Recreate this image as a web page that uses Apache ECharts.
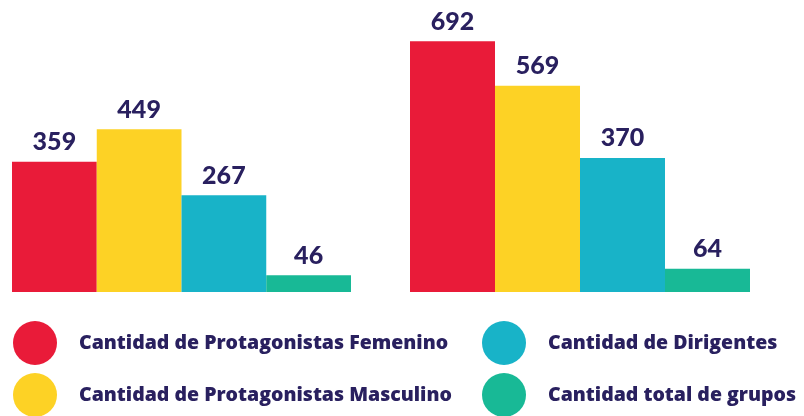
<!DOCTYPE html>
<html>
<head>
<meta charset="utf-8">
<script src="https://cdn.jsdelivr.net/npm/echarts@6/dist/echarts.min.js"></script>
<style>
  html, body { margin: 0; padding: 0; background: #fff; }
  #chart { width: 804px; height: 416px; }
</style>
</head>
<body>
<div id="chart"></div>
<script>
  // series names (legend)
  var seriesNames = [
    'Cantidad de Protagonistas Femenino',
    'Cantidad de Protagonistas Masculino',
    'Cantidad de Dirigentes',
    'Cantidad total de grupos'
  ];
  var colors = ['#e91b39', '#fdd225', '#18b3c8', '#18b996'];
  // one value per series, per group
  var groupA = [359, 449, 267, 46];
  var groupB = [692, 569, 370, 64];

  var navy = '#29205f';

  var chart = echarts.init(document.getElementById('chart'));

  var series = [];
  [groupA, groupB].forEach(function (vals, g) {
    vals.forEach(function (v, i) {
      series.push({
        name: seriesNames[i],
        type: 'bar',
        xAxisIndex: g,
        yAxisIndex: g,
        barGap: '0%',
        barCategoryGap: '0%',
        itemStyle: { color: colors[i] },
        label: {
          show: true,
          position: 'top',
          distance: 7,
          color: navy,
          fontFamily: 'Lato',
          fontWeight: 900,
          fontSize: 25
        },
        data: [v]
      });
    });
  });

  var legendBase = {
    orient: 'vertical',
    top: 321,
    height: 120,
    padding: 0,
    icon: 'circle',
    itemWidth: 44,
    itemHeight: 44,
    itemGap: 8,
    selectedMode: false,
    textStyle: {
      color: navy,
      fontFamily: 'Open Sans',
      fontWeight: 800,
      fontSize: 19.5,
      padding: [0, 0, 0, 17]
    }
  };

  chart.setOption({
    animation: false,
    grid: [
      { left: 12, width: 339, top: 2, bottom: 124 },
      { left: 410, width: 340, top: 2, bottom: 124 }
    ],
    xAxis: [0, 1].map(function (g) {
      return { gridIndex: g, type: 'category', data: [''], show: false };
    }),
    yAxis: [0, 1].map(function (g) {
      return { gridIndex: g, type: 'value', min: 0, max: 800, show: false };
    }),
    legend: [
      Object.assign({}, legendBase, { left: 13, data: seriesNames.slice(0, 2) }),
      Object.assign({}, legendBase, { left: 482, data: seriesNames.slice(2, 4) })
    ],
    series: series
  });
</script>
</body>
</html>
